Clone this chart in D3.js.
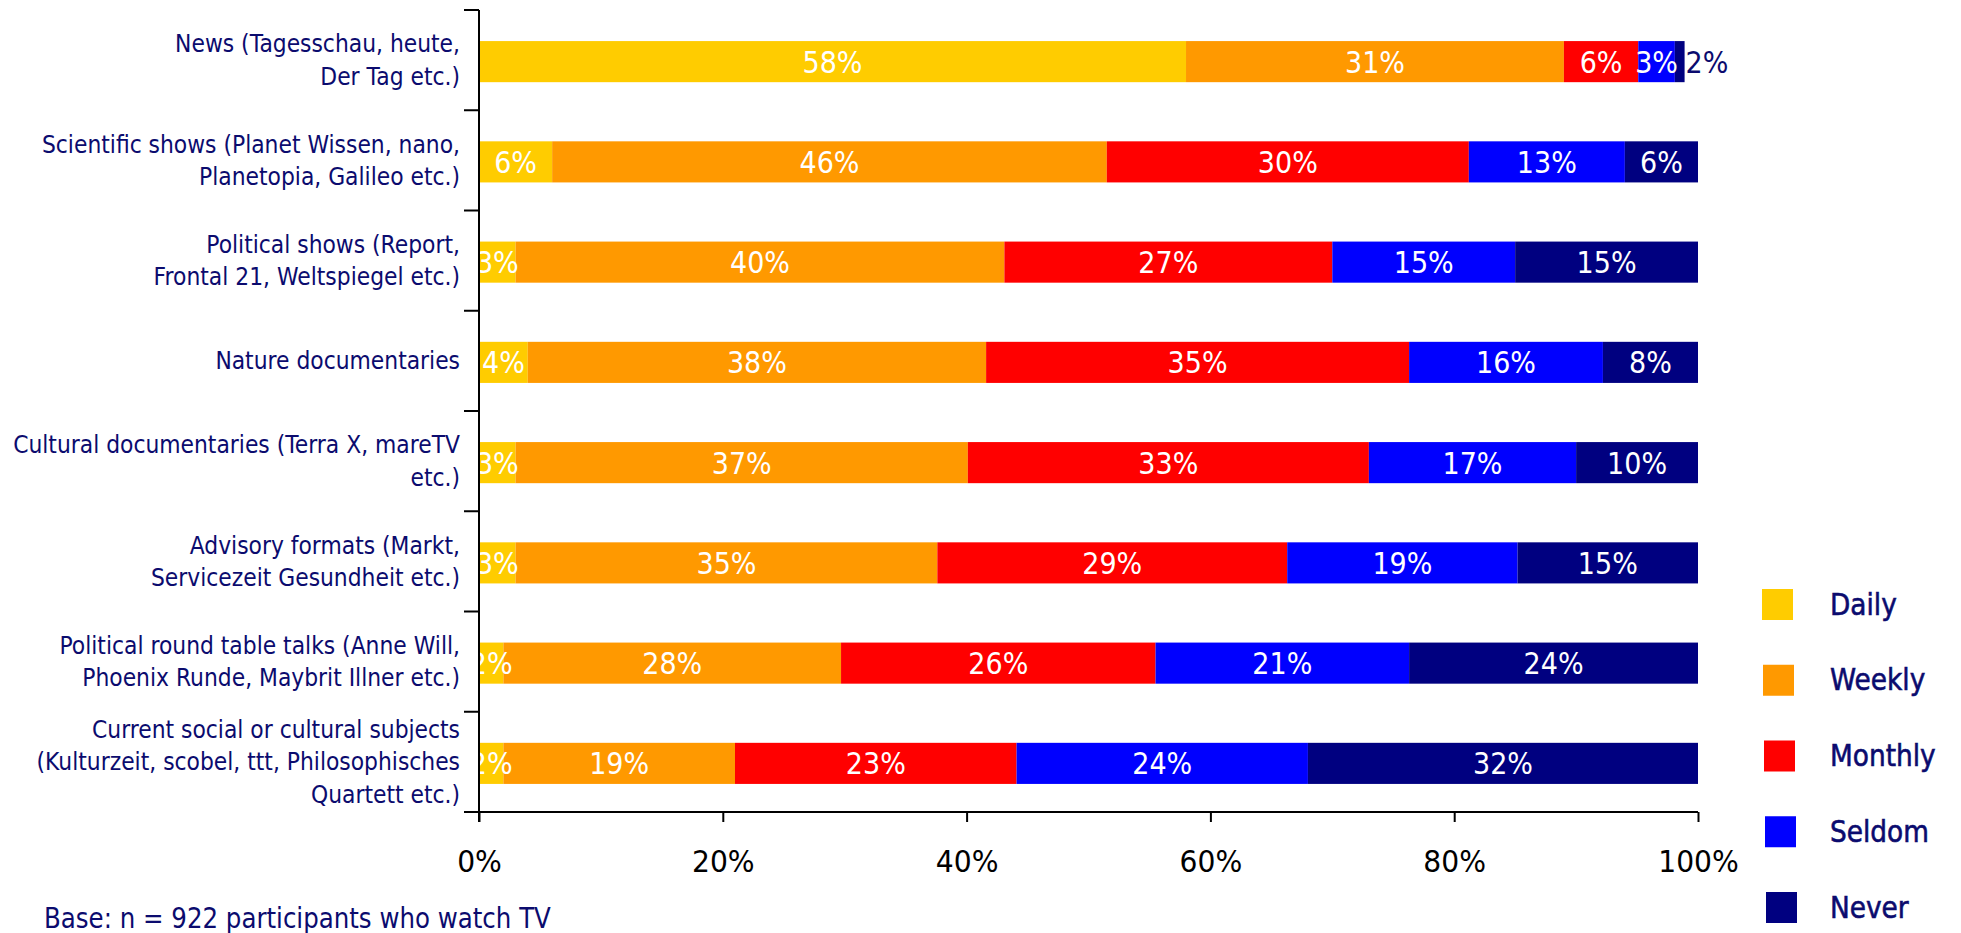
<!DOCTYPE html>
<html>
<head>
<meta charset="utf-8">
<script src="https://cdn.jsdelivr.net/npm/d3@7/dist/d3.min.js"></script>
<style>
  html, body { margin: 0; padding: 0; background: #ffffff; }
  svg { display: block; }
</style>
</head>
<body>
<svg id="chart" width="1961" height="933"></svg>
<script>
// ---------------- data ----------------
const categories = [
  "News (Tagesschau, heute,\nDer Tag etc.)",
  "Scientific shows (Planet Wissen, nano,\nPlanetopia, Galileo etc.)",
  "Political shows (Report,\nFrontal 21, Weltspiegel etc.)",
  "Nature documentaries",
  "Cultural documentaries (Terra X, mareTV\netc.)",
  "Advisory formats (Markt,\nServicezeit Gesundheit etc.)",
  "Political round table talks (Anne Will,\nPhoenix Runde, Maybrit Illner etc.)",
  "Current social or cultural subjects\n(Kulturzeit, scobel, ttt, Philosophisches\nQuartett etc.)"
];
const seriesNames = ["Daily", "Weekly", "Monthly", "Seldom", "Never"];
const seriesColors = ["#FFCC00", "#FF9900", "#FF0000", "#0000FF", "#000080"];

// segment widths (percent)
const daily   = [58.0,  6.0,  3.0,  4.0,  3.0,  3.0,  2.0,  2.0];
const weekly  = [31.0, 45.5, 40.1, 37.6, 37.1, 34.6, 27.7, 19.0];
const monthly = [ 6.1, 29.7, 26.9, 34.7, 32.9, 28.7, 25.8, 23.1];
const seldom  = [ 3.0, 12.8, 15.0, 15.9, 17.0, 18.9, 20.8, 23.9];
const never   = [ 0.8,  6.0, 15.0,  7.8, 10.0, 14.8, 23.7, 32.0];

// printed data labels
const dailyLabels   = [58,  6,  3,  4,  3,  3,  2,  2];
const weeklyLabels  = [31, 46, 40, 38, 37, 35, 28, 19];
const monthlyLabels = [ 6, 30, 27, 35, 33, 29, 26, 23];
const seldomLabels  = [ 3, 13, 15, 16, 17, 19, 21, 24];
const neverLabels   = [ 2,  6, 15,  8, 10, 15, 24, 32];

const xTicks = [0, 20, 40, 60, 80, 100];
const baseNote = "Base: n = 922 participants who watch TV";

// ---------------- build ----------------
const valueArrays = [daily, weekly, monthly, seldom, never];
const labelArrays = [dailyLabels, weeklyLabels, monthlyLabels, seldomLabels, neverLabels];
const table = categories.map((c, i) => {
  const row = { category: c };
  seriesNames.forEach((s, k) => { row[s] = valueArrays[k][i]; });
  return row;
});

const svg = d3.select("#chart");
const NAVY = "#0b0b6e";
const FONT = "'DejaVu Sans', Verdana, Tahoma, sans-serif";

// text with a horizontal compression (Tahoma-like look from DejaVu Sans)
function addText(g, x, y, str, o) {
  const t = g.append("text")
    .attr("transform", `translate(${x},${y}) scale(${o.sx || 1},1)`)
    .attr("x", 0).attr("y", 0)
    .attr("font-family", FONT)
    .attr("font-size", o.size)
    .attr("fill", o.fill || NAVY)
    .attr("text-anchor", o.anchor || "start")
    .attr("dominant-baseline", o.baseline || "central")
    .text(str);
  if (o.stroke) t.attr("stroke", o.fill || NAVY).attr("stroke-width", o.stroke);
  return t;
}

const x = d3.scaleLinear().domain([0, 100]).range([479, 1698]);
const y = d3.scaleBand().domain(categories).range([10, 812]).padding(0);
const barH = y.bandwidth() * 0.41;
const barOff = 1.5;

const stacked = d3.stack().keys(seriesNames)(table);

svg.append("defs").append("clipPath").attr("id", "plotclip")
  .append("rect").attr("x", x(0)).attr("y", 0).attr("width", 1961 - x(0)).attr("height", 933);

const gBars = svg.append("g");
stacked.forEach((layer, k) => {
  gBars.append("g").attr("fill", seriesColors[k])
    .selectAll("rect").data(layer).join("rect")
    .attr("x", d => x(d[0]))
    .attr("width", d => x(d[1]) - x(d[0]))
    .attr("y", d => y(d.data.category) + y.bandwidth() / 2 - barH / 2 + barOff)
    .attr("height", barH);
});

// data labels
const gLbl = svg.append("g").attr("clip-path", "url(#plotclip)");
stacked.forEach((layer, k) => {
  layer.forEach((d, i) => {
    const w = x(d[1]) - x(d[0]);
    const outside = (k === seriesNames.length - 1) && w < 20;
    addText(gLbl,
      outside ? x(d[1]) + 1 : (x(d[0]) + x(d[1])) / 2,
      y(d.data.category) + y.bandwidth() / 2 + barOff + 1,
      labelArrays[k][i] + "%",
      { size: 30, sx: 0.9, anchor: outside ? "start" : "middle", fill: outside ? NAVY : "#ffffff" });
  });
});

// y axis line + boundary ticks
const gY = svg.append("g").attr("stroke", "#000").attr("stroke-width", 2);
const yBounds = categories.map(c => y(c)).concat([y.range()[1]]);
gY.append("line").attr("x1", x(0)).attr("x2", x(0))
  .attr("y1", y.range()[0]).attr("y2", y.range()[1] + 10);
gY.selectAll("line.tk").data(yBounds).join("line").attr("class", "tk")
  .attr("x1", x(0) - 15).attr("x2", x(0)).attr("y1", d => d).attr("y2", d => d);

// x axis
const xAxis = d3.axisBottom(x).tickValues(xTicks).tickSize(10).tickSizeOuter(0)
  .tickFormat(d => d + "%");
const gX = svg.append("g").attr("transform", `translate(0,${y.range()[1]})`).call(xAxis);
gX.select(".domain").remove();
gX.append("line").attr("x1", x(0) - 15).attr("x2", x(100)).attr("y1", 0).attr("y2", 0)
  .attr("stroke", "#000").attr("stroke-width", 2);
gX.selectAll(".tick line").attr("stroke", "#000").attr("stroke-width", 2);
gX.selectAll(".tick text").each(function (d) {
  const tick = d3.select(this.parentNode);
  d3.select(this).remove();
  addText(tick, 0, 50, d + "%", { size: 30, sx: 0.94, anchor: "middle", fill: "#000" });
});

// category labels
const gCat = svg.append("g");
categories.forEach(c => {
  const lines = c.split("\n");
  const lh = 32.5;
  const cy = y(c) + y.bandwidth() / 2;
  lines.forEach((ln, j) => {
    addText(gCat, 460, cy + (j - (lines.length - 1) / 2) * lh, ln,
      { size: 25, sx: 0.875, anchor: "end" });
  });
});

// legend
const gLeg = svg.append("g");
const legStep = 75.75;
seriesNames.forEach((s, k) => {
  const ly = 589 + k * legStep;
  gLeg.append("rect").attr("x", 1762 + k * 1).attr("y", ly).attr("width", 31).attr("height", 31)
    .attr("fill", seriesColors[k]);
  addText(gLeg, 1830, ly + 15.5, s, { size: 30, sx: 0.88, stroke: 0.6 });
});

// base note
addText(svg, 44, 928, baseNote, { size: 28.5, sx: 0.86, baseline: "alphabetic" });
</script>
</body>
</html>
